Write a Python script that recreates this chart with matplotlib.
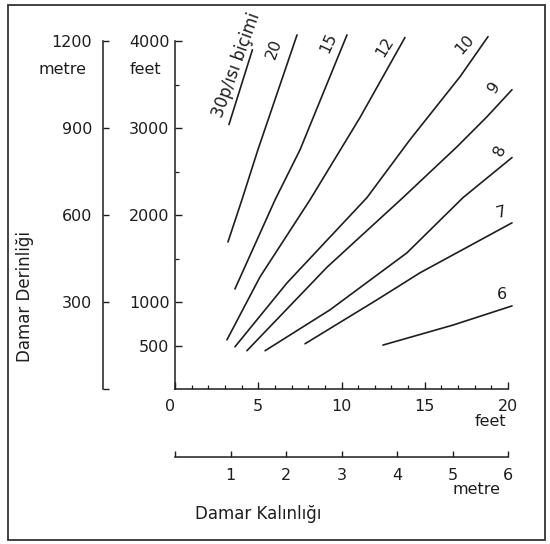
import matplotlib
matplotlib.use('Agg')
import matplotlib.pyplot as plt
from matplotlib.patches import Rectangle
from matplotlib.ticker import FixedLocator

plt.rcParams['font.family'] = ['DejaVu Sans']

# ---------------- data (thickness in feet, depth in feet) ----------------
curve_names = ['30p/ısı biçimi', '20', '15', '12', '10', '9', '8', '7', '6']

x_30 = [3.24, 4.65]
y_30 = [3040, 3900]
x_20 = [3.18, 4.02, 4.98, 7.33]
y_20 = [1690, 2175, 2750, 4070]
x_15 = [3.60, 6.01, 7.51, 10.33]
y_15 = [1150, 2175, 2750, 4070]
x_12 = [3.12, 5.11, 8.11, 11.11, 13.81]
y_12 = [565, 1290, 2175, 3120, 4040]
x_10 = [3.60, 6.73, 11.53, 14.11, 17.12, 18.80]
y_10 = [485, 1220, 2200, 2865, 3590, 4050]
x_9 = [4.32, 9.13, 13.69, 16.94, 18.74, 20.24]
y_9 = [440, 1400, 2200, 2785, 3130, 3440]
x_8 = [5.41, 9.31, 13.93, 17.30, 20.24]
y_8 = [440, 910, 1565, 2200, 2660]
x_7 = [7.81, 12.13, 14.71, 20.24]
y_7 = [520, 1025, 1335, 1910]
x_6 = [12.49, 16.70, 20.24]
y_6 = [505, 735, 955]

curves_x = [x_30, x_20, x_15, x_12, x_10, x_9, x_8, x_7, x_6]
curves_y = [y_30, y_20, y_15, y_12, y_10, y_9, y_8, y_7, y_6]

feet_x_ticks = [0, 5, 10, 15, 20]
feet_y_ticks = [500, 1000, 2000, 3000, 4000]
feet_y_minor = [1500, 2500, 3500]
metre_depth_ticks = [0, 300, 600, 900, 1200]
metre_thick_ticks = [0, 1, 2, 3, 4, 5, 6]

# ---------------- styling ----------------
W, H = 550, 544
INK = '#1e1e1e'
# label offsets (pixels) from the upper end of each curve, and rotations
label_offsets = [(-16, -15), (-23, -14), (-19, -8), (-20, -9), (-23, -8),
                 (-18, 2), (-12, 7), (-11, 10), (-10, 11)]
label_rot = [70, 70, 65, 58, 48, 55, 65, 15, 0]
label_size = [12, 11.5, 11.5, 11.5, 11.5, 11.5, 11.5, 11.5, 11.5]


def rect(x0, y0, x1, y1):
    return [x0 / W, 1 - y1 / H, (x1 - x0) / W, (y1 - y0) / H]


fig = plt.figure(figsize=(W / 100, H / 100), dpi=100)
fig.patch.set_facecolor('white')

# main axes (feet / feet)
ax = fig.add_axes(rect(175, 41, 508, 389))
ax.set_facecolor('none')
ax.set_xlim(0, 20)
ax.set_ylim(0, 4000)
for s in ('top', 'right'):
    ax.spines[s].set_visible(False)
for s in ('left', 'bottom'):
    ax.spines[s].set_color(INK)
    ax.spines[s].set_linewidth(1.1)

ax.set_xticks(feet_x_ticks)
ax.set_xticklabels([str(v) for v in feet_x_ticks])
ax.xaxis.set_minor_locator(FixedLocator(list(range(0, 21))))
ax.set_yticks(feet_y_ticks)
ax.set_yticklabels([str(v) for v in feet_y_ticks])
ax.yaxis.set_minor_locator(FixedLocator(feet_y_minor))
ax.tick_params(axis='x', which='major', direction='in', length=5, width=1,
               color=INK, labelsize=11.5, pad=7, labelcolor=INK)
ax.tick_params(axis='y', which='major', direction='in', length=5, width=1,
               color=INK, labelsize=11.5, pad=4, labelcolor=INK)
ax.tick_params(which='minor', direction='in', length=3, width=0.9, color=INK)
for lab in ax.get_xticklabels():
    if lab.get_text() == '0':
        lab.set_horizontalalignment('right')

for i, (xs, ys) in enumerate(zip(curves_x, curves_y)):
    ax.plot(xs, ys, color=INK, lw=1.2, clip_on=False, solid_capstyle='round')
    ax.annotate(curve_names[i], xy=(xs[-1], ys[-1]), xytext=label_offsets[i],
                textcoords='offset pixels', ha='center', va='center',
                rotation=label_rot[i], fontsize=label_size[i], color=INK,
                annotation_clip=False)

# metre depth axis
axm = fig.add_axes(rect(103, 41, 103.5, 389))
axm.set_facecolor('none')
axm.set_ylim(0, 1200)
axm.set_xticks([])
for s in ('top', 'right', 'bottom'):
    axm.spines[s].set_visible(False)
axm.spines['left'].set_color(INK)
axm.spines['left'].set_linewidth(1.1)
axm.set_yticks(metre_depth_ticks)
axm.set_yticklabels(['' if v == 0 else str(v) for v in metre_depth_ticks])
axm.tick_params(axis='y', direction='in', length=4, width=1, color=INK,
                labelsize=11.5, pad=8, labelcolor=INK)

# metre thickness axis
axt = fig.add_axes(rect(175, 456.5, 508, 457))
axt.set_facecolor('none')
axt.set_xlim(0, 6)
axt.set_yticks([])
for s in ('top', 'right', 'left'):
    axt.spines[s].set_visible(False)
axt.spines['bottom'].set_color(INK)
axt.spines['bottom'].set_linewidth(1.1)
axt.set_xticks(metre_thick_ticks)
axt.set_xticklabels(['' if v == 0 else str(v) for v in metre_thick_ticks])
axt.tick_params(axis='x', direction='in', length=4, width=1, color=INK,
                labelsize=11.5, pad=8, labelcolor=INK)


def ftext(x, y, s, **kw):
    fig.text(x / W, 1 - y / H, s, ha='center', va='center', color=INK, **kw)


ftext(63, 70, 'metre', fontsize=11.5)
ftext(145, 70, 'feet', fontsize=11.5)
ftext(490, 422, 'feet', fontsize=11.5)
ftext(476, 489, 'metre', fontsize=11.5)
ftext(25, 297, 'Damar Derinliği', fontsize=12, rotation=90)
ftext(258, 514, 'Damar Kalınlığı', fontsize=12)

fig.add_artist(Rectangle((8 / W, 1 - 540 / H), (545 - 8) / W, (540 - 5) / H,
                         transform=fig.transFigure, fill=False, lw=1.3,
                         ec='#333333'))

fig.savefig('out.png', dpi=100)
